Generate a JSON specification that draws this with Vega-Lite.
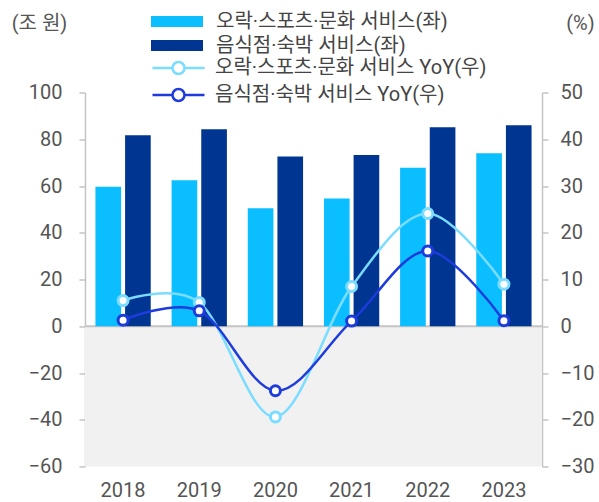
{
  "$schema": "https://vega.github.io/schema/vega-lite/v6.json",
  "width": 457,
  "height": 374,
  "autosize": {"type": "none"},
  "padding": {"left": 85, "top": 92.5, "right": 57, "bottom": 35.5},
  "background": "white",
  "config": {
    "view": {"stroke": null},
    "font": "Roboto, 'Noto Sans CJK KR', sans-serif"
  },
  "datasets": {
    "bars": [
      {"year": "2018", "series": "오락·스포츠·문화 서비스(좌)", "value": 59.7},
      {"year": "2018", "series": "음식점·숙박 서비스(좌)", "value": 81.7},
      {"year": "2019", "series": "오락·스포츠·문화 서비스(좌)", "value": 62.5},
      {"year": "2019", "series": "음식점·숙박 서비스(좌)", "value": 84.3},
      {"year": "2020", "series": "오락·스포츠·문화 서비스(좌)", "value": 50.5},
      {"year": "2020", "series": "음식점·숙박 서비스(좌)", "value": 72.6},
      {"year": "2021", "series": "오락·스포츠·문화 서비스(좌)", "value": 54.6},
      {"year": "2021", "series": "음식점·숙박 서비스(좌)", "value": 73.3},
      {"year": "2022", "series": "오락·스포츠·문화 서비스(좌)", "value": 67.8},
      {"year": "2022", "series": "음식점·숙박 서비스(좌)", "value": 85.1},
      {"year": "2023", "series": "오락·스포츠·문화 서비스(좌)", "value": 74.0},
      {"year": "2023", "series": "음식점·숙박 서비스(좌)", "value": 86.0}
    ],
    "yoy": [
      {"year": "2018", "series": "오락·스포츠·문화 서비스 YoY(우)", "value": 5.5},
      {"year": "2019", "series": "오락·스포츠·문화 서비스 YoY(우)", "value": 5.1},
      {"year": "2020", "series": "오락·스포츠·문화 서비스 YoY(우)", "value": -19.4},
      {"year": "2021", "series": "오락·스포츠·문화 서비스 YoY(우)", "value": 8.5},
      {"year": "2022", "series": "오락·스포츠·문화 서비스 YoY(우)", "value": 24.1},
      {"year": "2023", "series": "오락·스포츠·문화 서비스 YoY(우)", "value": 9.0},
      {"year": "2018", "series": "음식점·숙박 서비스 YoY(우)", "value": 1.3},
      {"year": "2019", "series": "음식점·숙박 서비스 YoY(우)", "value": 3.3},
      {"year": "2020", "series": "음식점·숙박 서비스 YoY(우)", "value": -13.8},
      {"year": "2021", "series": "음식점·숙박 서비스 YoY(우)", "value": 1.1},
      {"year": "2022", "series": "음식점·숙박 서비스 YoY(우)", "value": 16.1},
      {"year": "2023", "series": "음식점·숙박 서비스 YoY(우)", "value": 1.2}
    ]
  },
  "layer": [
    {
      "layer": [
        {
          "data": {"values": [{}]},
          "mark": {"type": "rect", "color": "#f1f1f1"},
          "encoding": {
            "y": {"datum": 0, "type": "quantitative",
              "scale": {"domain": [-60, 100], "nice": false, "zero": false},
              "axis": {"values": [-60, -40, -20, 0, 20, 40, 60, 80, 100], "title": "(조 원)", "titleAngle": 0, "titleX": -46, "titleY": -69.5, "titleAlign": "center", "titleBaseline": "middle", "titleFontSize": 20, "titleFontWeight": "normal", "titleColor": "#555", "grid": false, "domainColor": "#c4c4c4", "domainWidth": 1.5, "tickColor": "#c4c4c4", "tickWidth": 1.5, "tickSize": 6, "labelPadding": 17, "labelFontSize": 20, "labelColor": "#555", "labelFlush": false}},
            "y2": {"datum": -60}
          }
        },
        {
          "data": {"values": [{}]},
          "mark": {"type": "rule", "color": "#c4c4c4", "strokeWidth": 2},
          "encoding": {
            "y": {"datum": 0, "type": "quantitative",
              "scale": {"domain": [-60, 100], "nice": false, "zero": false},
              "axis": {"values": [-60, -40, -20, 0, 20, 40, 60, 80, 100], "title": "(조 원)", "titleAngle": 0, "titleX": -46, "titleY": -69.5, "titleAlign": "center", "titleBaseline": "middle", "titleFontSize": 20, "titleFontWeight": "normal", "titleColor": "#555", "grid": false, "domainColor": "#c4c4c4", "domainWidth": 1.5, "tickColor": "#c4c4c4", "tickWidth": 1.5, "tickSize": 6, "labelPadding": 17, "labelFontSize": 20, "labelColor": "#555", "labelFlush": false}}
          }
        },
        {
          "data": {"name": "bars"},
          "mark": {"type": "bar"},
          "encoding": {
            "x": {"field": "year", "type": "nominal", "scale": {"paddingInner": 0.274, "paddingOuter": 0.137},
              "axis": {"title": null, "domain": false, "ticks": false, "tickSize": 0, "labelPadding": 14, "labelFontSize": 20, "labelColor": "#555", "labelAngle": 0}},
            "xOffset": {"field": "series", "type": "nominal", "sort": null, "scale": {"paddingInner": 0.135, "paddingOuter": 0}},
            "y": {"field": "value", "type": "quantitative",
              "scale": {"domain": [-60, 100], "nice": false, "zero": false},
              "axis": {"values": [-60, -40, -20, 0, 20, 40, 60, 80, 100], "title": "(조 원)", "titleAngle": 0, "titleX": -46, "titleY": -69.5, "titleAlign": "center", "titleBaseline": "middle", "titleFontSize": 20, "titleFontWeight": "normal", "titleColor": "#555", "grid": false, "domainColor": "#c4c4c4", "domainWidth": 1.5, "tickColor": "#c4c4c4", "tickWidth": 1.5, "tickSize": 6, "labelPadding": 17, "labelFontSize": 20, "labelColor": "#555", "labelFlush": false}},
            "fill": {"field": "series", "type": "nominal",
              "scale": {"domain": ["오락·스포츠·문화 서비스(좌)", "음식점·숙박 서비스(좌)"], "range": ["#0abeff", "#003591"]},
              "legend": {"title": null, "orient": "none", "legendX": 82, "legendY": -81, "padding": 0, "symbolType": "M-2.6,-0.55H2.6V0.55H-2.6Z", "symbolSize": 400, "symbolStrokeWidth": 0, "symbolOpacity": 1, "labelFontSize": 20, "labelColor": "#444", "labelOffset": 29, "labelLimit": 500, "rowPadding": 4}}
          }
        }
      ]
    },
    {
      "data": {"name": "yoy"},
      "layer": [
        {
          "mark": {"type": "line", "interpolate": "cardinal", "strokeWidth": 2.5},
          "encoding": {
            "x": {"field": "year", "type": "nominal"},
            "y": {"field": "value", "type": "quantitative",
              "scale": {"domain": [-30, 50], "nice": false, "zero": false},
              "axis": {"orient": "right", "values": [-30, -20, -10, 0, 10, 20, 30, 40, 50], "title": "(%)", "titleAngle": 0, "titleX": 38, "titleY": -69.5, "titleAlign": "center", "titleBaseline": "middle", "titleFontSize": 20, "titleFontWeight": "normal", "titleColor": "#555", "grid": false, "domainColor": "#c4c4c4", "domainWidth": 1.5, "tickColor": "#c4c4c4", "tickWidth": 1.5, "tickSize": 6, "labelPadding": 12, "labelFontSize": 20, "labelColor": "#555", "labelFlush": false}},
            "stroke": {"field": "series", "type": "nominal",
              "scale": {"domain": ["오락·스포츠·문화 서비스 YoY(우)", "음식점·숙박 서비스 YoY(우)"], "range": ["#7adcff", "#1e3cdc"]},
              "legend": {"title": null, "orient": "none", "legendX": 82, "legendY": -36, "padding": 0, "symbolType": "M-2.6,0H-0.6M0.6,0H2.6M-0.6,0A0.6,0.6,0,1,0,0.6,0A0.6,0.6,0,1,0,-0.6,0Z", "symbolSize": 400, "symbolStrokeWidth": 2.5, "symbolFillColor": "white", "symbolOpacity": 1, "labelFontSize": 20, "labelColor": "#444", "labelOffset": 25, "labelLimit": 500, "rowPadding": 4}}
          }
        },
        {
          "mark": {"type": "point", "shape": "circle", "filled": false, "fill": "white", "fillOpacity": 1, "opacity": 1, "size": 100, "strokeWidth": 3},
          "encoding": {
            "x": {"field": "year", "type": "nominal"},
            "y": {"field": "value", "type": "quantitative"},
            "stroke": {"field": "series", "type": "nominal"}
          }
        }
      ]
    }
  ],
  "resolve": {"scale": {"y": "independent"}, "axis": {"y": "independent"}}
}
